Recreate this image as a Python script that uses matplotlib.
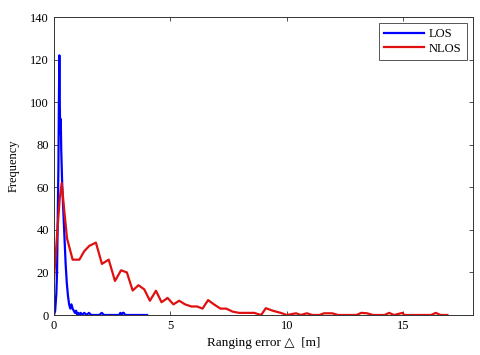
import numpy as np
import matplotlib
matplotlib.use('Agg')
import matplotlib.pyplot as plt

plt.rcParams['font.family'] = ['Liberation Serif', 'DejaVu Serif']

# LOS ranging error histogram (m, count)
los_x = [0.0, 0.05, 0.1, 0.13, 0.16, 0.19, 0.21, 0.23, 0.25, 0.27, 0.29, 0.31, 0.33, 0.35,
         0.38, 0.42, 0.46, 0.5, 0.55, 0.6, 0.65, 0.7, 0.75, 0.8, 0.85, 0.9, 0.95, 1.0,
         1.05, 1.1, 1.15, 1.2, 1.3, 1.4, 1.5, 1.6, 1.95, 2.05, 2.15, 2.8, 2.85, 2.9,
         2.95, 3.0, 3.05, 3.1, 4.0]
los_y = [0, 2, 10, 20, 45, 70, 100, 122, 98, 85, 92, 78, 70, 62,
         54, 44, 34, 24, 15, 9, 5, 3, 5, 3, 2, 1, 2, 0,
         1, 0, 1, 0, 1, 0, 1, 0, 0, 1, 0, 0, 1, 0,
         1, 1, 0, 0, 0]

# NLOS ranging error histogram (m, count)
nlos_x = [0.0, 0.16, 0.25, 0.33, 0.45, 0.56, 0.8, 1.09, 1.3, 1.52, 1.8, 2.06, 2.35, 2.62,
          2.88, 3.13, 3.38, 3.63, 3.88, 4.12, 4.38, 4.62, 4.88, 5.13, 5.38, 5.63, 5.9,
          6.15, 6.38, 6.62, 6.87, 7.15, 7.4, 7.67, 7.95, 8.6, 8.9, 9.1, 9.4, 9.74, 10.0,
          10.4, 10.6, 10.86, 11.1, 11.4, 11.6, 11.95, 12.2, 13.0, 13.2, 13.45, 13.7, 14.2,
          14.4, 14.6, 14.8, 14.96, 15.05, 16.2, 16.4, 16.6, 16.9]
nlos_y = [17, 42, 55, 62, 48, 36, 26, 26, 30, 32.5, 34, 24, 26, 16,
          21, 20, 11.5, 14, 12, 6.7, 11.4, 6, 8, 5, 6.7, 5, 4,
          4, 3, 7, 5, 3, 3, 1.6, 1, 1, 0, 3.2, 2, 1, 0,
          0.8, 0, 0.8, 0, 0, 0.8, 0.8, 0, 0, 1, 0.8, 0, 0,
          1, 0, 0.5, 1, 0, 0, 1, 0, 0]

fig = plt.figure(figsize=(4.8, 3.55), dpi=100)
ax = fig.add_axes([54 / 480, 1 - 315 / 355, 419 / 480, 298 / 355])

ax.plot(los_x, los_y, color='#0000ff', lw=1.6, label='LOS')
ax.plot(nlos_x, nlos_y, color='#e01010', lw=1.6, label='NLOS')

ax.set_xlim(0, 18)
ax.set_ylim(0, 140)
ax.set_xticks([0, 5, 10, 15])
ax.set_yticks(np.arange(0, 141, 20))
ax.tick_params(direction='in', top=True, right=True, labelsize=9, length=3, width=0.6,
               colors='#333333', labelcolor='black')
for s in ax.spines.values():
    s.set_linewidth(0.7)
    s.set_color('#333333')

ax.set_xlabel('Ranging error \u25b3  [m]', fontsize=9.5, labelpad=4)
ax.set_ylabel('Frequency', fontsize=9, labelpad=8)

leg = ax.legend(loc='upper right', fontsize=9, fancybox=False, framealpha=1,
                edgecolor='#555555', handlelength=3.2, borderaxespad=0.5,
                labelspacing=0.2, handletextpad=0.4, borderpad=0.4)
leg.get_frame().set_linewidth(0.7)

fig.savefig('out.png', dpi=100)
